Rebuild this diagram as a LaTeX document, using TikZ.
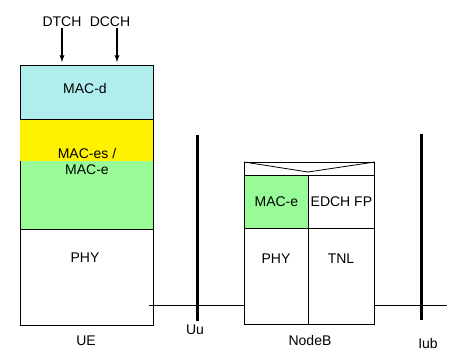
\documentclass[tikz,border=0pt]{standalone}
\usepackage{fontspec}
\setmainfont{Liberation Sans}
\definecolor{macdcol}{RGB}{176,238,238}
\definecolor{macecol}{RGB}{152,251,152}
\begin{document}
\begin{tikzpicture}[x=1pt, y=-1pt, >=latex, font=\fontsize{14}{16}\selectfont,
      box/.style={draw, line width=0.8pt, anchor=north west, inner sep=0pt},
      txt/.style={inner sep=1pt},
      bar/.style={line width=3pt},
      link/.style={line width=0.8pt}]
    \useasboundingbox (0,0) rectangle (472,362);
    % UE stack
    \node[box, fill=macdcol, minimum width=133pt, minimum height=54.5pt] (uemacd) at (20,65) {};
    \node[box, fill=macecol, minimum width=133pt, minimum height=109.5pt] (uemace) at (20,119.5) {};
    \fill[yellow] ([shift={(0.4pt,-0.4pt)}]uemace.north west) rectangle ([shift={(-0.4pt,-41.5pt)}]uemace.north east);
    \draw[line width=0.8pt] (uemace.north west) -- (uemace.north east);
    \node[box, fill=white, minimum width=133pt, minimum height=96pt] (uephy) at (20,229) {};
    \node[txt] (uemacdt) at (85,88) {MAC-d};
    \node[txt, align=center] (uemacet) at (87,161) {MAC-es /\\MAC-e};
    \node[txt] (uephyt) at (85,258) {PHY};
    \node[txt] (uelabel) at (86,341) {UE};
    % logical channels
    \node[txt] (dtch) at (62,22) {DTCH};
    \node[txt] (dcch) at (110,22) {DCCH};
    \coordinate (dtchin) at (62,62);
    \coordinate (dcchin) at (117,62);
    \draw[->, line width=1.3pt] (dtch.south) -- (dtchin);
    \draw[->, line width=1.3pt] (dcch.south -| dcchin) -- (dcchin);
    % NodeB stack
    \node[box, minimum width=130pt, minimum height=13pt] (nbtop) at (244,162) {};
    \draw[line width=0.8pt] (nbtop.north west) -- (308,172) -- (nbtop.north east);
    \node[box, fill=macecol, minimum width=64pt, minimum height=53pt] (nbmace) at (244,175) {MAC-e};
    \node[box, minimum width=66pt, minimum height=53pt] (nbedch) at (308,175) {EDCH FP};
    \node[box, minimum width=64pt, minimum height=96pt] (nbphy) at (244,228) {};
    \node[box, minimum width=66pt, minimum height=96pt] (nbtnl) at (308,228) {};
    \node[txt] (nbphyt) at (276,259) {PHY};
    \node[txt] (nbtnlt) at (341,259) {TNL};
    \node[txt] (nblabel) at (310,340) {NodeB};
    % interfaces
    \coordinate (uuwest) at (149,305);
    \coordinate (iubeast) at (447,305);
    \draw[link] (uuwest) -- (uuwest -| nbphy.west);
    \draw[link] (uuwest -| nbtnl.east) -- (iubeast);
    \coordinate (uutop) at (197,135);
    \coordinate (uubot) at (197,321);
    \coordinate (iubtop) at (421,134);
    \coordinate (iubbot) at (421,320);
    \draw[bar] (uutop) -- (uubot);
    \draw[bar] (iubtop) -- (iubbot);
    \node[txt] (uulabel) at (195,330) {Uu};
    \node[txt] (iublabel) at (428,343) {Iub};
  \end{tikzpicture}
\end{document}
